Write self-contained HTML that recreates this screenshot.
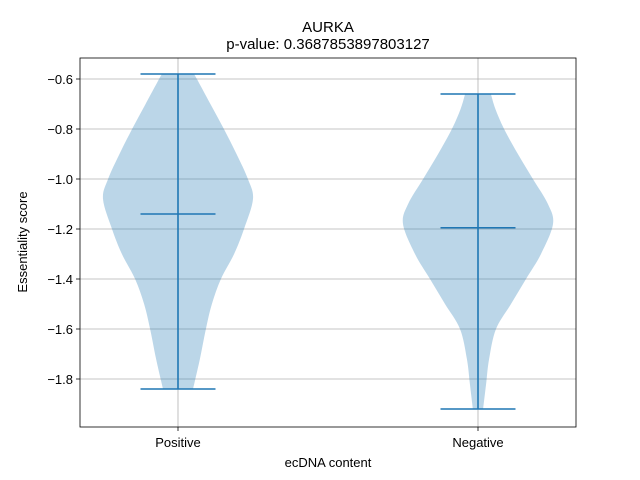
<!DOCTYPE html>
<html><head><meta charset="utf-8"><style>
body{margin:0;background:#fff}
svg{display:block;font-family:"Liberation Sans","DejaVu Sans",sans-serif}
</style></head><body>
<svg id="chart" width="640" height="480">
<rect width="640" height="480" fill="#fff"/>
<text x="328" y="32" text-anchor="middle" font-size="15">AURKA</text>
<text x="328" y="49" text-anchor="middle" font-size="15">p-value: 0.3687853897803127</text>
<g id="grid"></g>
<g id="violins"></g>
<g id="axes"></g>
<text x="328" y="467" text-anchor="middle" font-size="13">ecDNA content</text>
<text transform="translate(27,242) rotate(-90)" text-anchor="middle" font-size="13">Essentiality score</text>
</svg>
<script>
const categories=["Positive","Negative"];
const maxVals=[-0.58,-0.66];
const minVals=[-1.84,-1.92];
const medians=[-1.14,-1.195];
const yTicks=[-0.6,-0.8,-1.0,-1.2,-1.4,-1.6,-1.8];
const profileY0=[-0.58,-0.6,-0.7,-0.8,-0.9,-1.0,-1.08,-1.2,-1.3,-1.4,-1.5,-1.6,-1.72,-1.84];
const profileW0=[0.053,0.063,0.108,0.153,0.195,0.233,0.25,0.22,0.187,0.143,0.113,0.093,0.073,0.05];
const profileY1=[-0.66,-0.72,-0.8,-0.9,-1.0,-1.1,-1.18,-1.3,-1.4,-1.5,-1.6,-1.72,-1.82,-1.92];
const profileW1=[0.043,0.058,0.087,0.133,0.183,0.233,0.25,0.21,0.16,0.11,0.06,0.037,0.027,0.017];
const L=80,R=576,T=58,B=427;
const xs=v=>178+(v-1)*300;
const ys=v=>79+(-0.6-v)*250;
const NS="http://www.w3.org/2000/svg";
function mk(tag,attrs,parent){const e=document.createElementNS(NS,tag);for(const k in attrs)e.setAttribute(k,attrs[k]);parent.appendChild(e);return e;}
const grid=document.getElementById('grid'),axes=document.getElementById('axes'),vg=document.getElementById('violins');
yTicks.forEach(t=>{
  const g=mk('line',{x1:L,x2:R,y1:ys(t),y2:ys(t),stroke:'#b0b0b0','stroke-width':0.8},grid);
  
  
  mk('line',{x1:L-4,x2:L,y1:ys(t),y2:ys(t),stroke:'#000','stroke-width':0.8},axes);
  const tx=mk('text',{x:L-7,y:ys(t)+5,'text-anchor':'end','font-size':13},axes);
  tx.textContent='\u2212'+Math.abs(t).toFixed(1);
  
  
});
categories.forEach((c,i)=>{
  const x=xs(i+1);
  const g=mk('line',{x1:x,x2:x,y1:T,y2:B,stroke:'#b0b0b0','stroke-width':0.8},grid);
  
  
  mk('line',{x1:x,x2:x,y1:B,y2:B+4,stroke:'#000','stroke-width':0.8},axes);
  const tx=mk('text',{x:x,y:B+20,'text-anchor':'middle','font-size':13},axes);
  tx.textContent=c;
  
  
});
const fr=mk('rect',{x:L,y:T,width:R-L,height:B-T,fill:'none',stroke:'#000','stroke-width':0.8},axes);


function smooth(pts){
  let d='';
  for(let i=0;i<pts.length-1;i++){
    const p0=pts[Math.max(0,i-1)],p1=pts[i],p2=pts[i+1],p3=pts[Math.min(pts.length-1,i+2)];
    const c1=[p1[0]+(p2[0]-p0[0])/6,p1[1]+(p2[1]-p0[1])/6];
    const c2=[p2[0]-(p3[0]-p1[0])/6,p2[1]-(p3[1]-p1[1])/6];
    d+=' C'+c1+' '+c2+' '+p2;
  }
  return d;
}
const profiles=[[profileY0,profileW0],[profileY1,profileW1]];
categories.forEach((c,i)=>{
  const pos=i+1,[py,pw]=profiles[i];
  const right=py.map((v,k)=>[xs(pos+pw[k]),ys(v)]);
  const left=py.map((v,k)=>[xs(pos-pw[k]),ys(v)]).reverse();
  const d='M'+right[0]+smooth(right)+' L'+left[0]+smooth(left)+' Z';
  const p=mk('path',{d:d,fill:'#1f77b4','fill-opacity':0.3},vg);
  
  
  const x=xs(pos),hw=37.5;
  const st={stroke:'#1f77b4','stroke-width':1.6};
  const v=mk('line',Object.assign({x1:x,x2:x,y1:ys(maxVals[i]),y2:ys(minVals[i])},st),vg);
  
  
  [[maxVals[i],'max-cap'],[minVals[i],'min-cap'],[medians[i],'median-line']].forEach(([val,n])=>{
    const l=mk('line',Object.assign({x1:x-hw,x2:x+hw,y1:ys(val),y2:ys(val)},st),vg);
    
    
  });
});
</script>
</body></html>
